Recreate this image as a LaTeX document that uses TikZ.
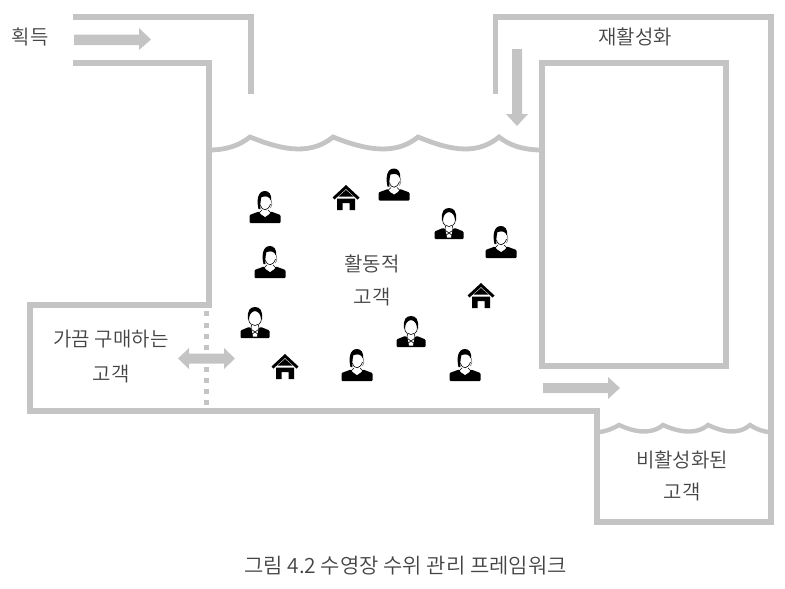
\documentclass[tikz,border=0pt]{standalone}
\usepackage{fontspec}
\setmainfont{Noto Sans CJK KR DemiLight}
\definecolor{wallgray}{HTML}{C4C4C4}
\definecolor{ink}{HTML}{444444}
\tikzset{
  wallline/.style={draw=wallgray,line width=5.2pt,line join=miter,line cap=butt},
  block/.style={fill=wallgray,draw=none},
  lab/.style={text=ink,font=\fontsize{20}{24}\selectfont,align=center,inner sep=0pt},
  womanicon/.pic={
    \fill[black,rounded corners=1pt] (-15.5,16) -- (-15.5,8) -- (-6,4.5) -- (0,10.5) -- (6,4.5) -- (15.5,8) -- (15.5,16) -- cycle;
    \fill[white] (-6,4) .. controls (-3,11) and (3,11) .. (6,4) -- (3.5,0) -- (-3.5,0) -- cycle;
    \fill[black] (-6.5,2) .. controls (-8.5,-6) and (-7.5,-16) .. (0,-16) .. controls (4.5,-16) and (6.5,-12) .. (6.2,-7) -- (5.4,-7) .. controls (4.5,-10) and (2,-11.5) .. (-3.5,-10) .. controls (-4.8,-5) and (-4.8,-1) .. (-4.5,2) -- cycle;
    \draw[black!50,line width=.7pt] (6.2,-7) .. controls (7,-3) and (7,-1) .. (5.5,1);
    \draw[black,line width=.6pt] (-4.5,-2) .. controls (-3,4.5) and (3,4.5) .. (5.5,-3);
    \draw[black,line width=.6pt] (-3,3) -- (-6,6) (3,3) -- (6,6);
  },
  manicon/.pic={
    \fill[black,rounded corners=1pt] (-14.5,15.5) -- (-14.5,8) -- (-6,4.5) -- (-3,6) -- (0,14) -- (3,6) -- (6,4.5) -- (14.5,8) -- (14.5,15.5) -- cycle;
    \fill[white] (-3.5,6) -- (0,8) -- (3.5,6) -- (2,14) -- (-2,14) -- cycle;
    \draw[black,line width=.6pt] (-3.5,7) -- (3.5,12) (3.5,7) -- (-3.5,12);
    \fill[black] (-7,-3) .. controls (-8,-12) and (-5,-15.5) .. (0,-15.5) .. controls (5,-15.5) and (8,-12) .. (7,-3) -- (6,-3) .. controls (6,-7) and (4,-11) .. (0,-11.5) .. controls (-4,-11) and (-6,-7) .. (-6,-3) -- cycle;
    \draw[black,line width=.6pt] (-6.4,-3) .. controls (-5.5,5) and (5.5,5) .. (6.4,-3);
    \draw[black,line width=.6pt] (-3.5,2.5) -- (-4,6) (3.5,2.5) -- (4,6);
  },
  houseicon/.pic={
    \fill[black] (-9,12.5) -- (-9,1) -- (9,1) -- (9,12.5) -- (3.5,12.5) -- (3.5,5.5) -- (-3.5,5.5) -- (-3.5,12.5) -- cycle;
    \fill[black] (-13.5,0) -- (0,-12.5) -- (13.5,0) -- (11.5,2) -- (0,-8.5) -- (-11.5,2) -- cycle;
    \fill[black] (-7.5,-1) -- (0,-7.5) -- (7.5,-1) -- cycle;
  }
}
\begin{document}
\begin{tikzpicture}[x=1pt,y=-1pt]
\useasboundingbox (0,0) rectangle (785,589);
% walls
\draw[wallline] (73,17) -- (251,17) -- (251,94);
\draw[wallline] (73,63) -- (209,63) -- (209,305) -- (30,305) -- (30,411) -- (597,411) -- (597,522) -- (771,522) -- (771,17) -- (495.5,17) -- (495.5,94);
\draw[wallline] (542,63) rectangle (726,366);
% water surfaces
\draw[wallline,line width=4.8pt] (209,150) .. controls (227,150) and (240,145) .. (250,137)
  .. controls (275,147) and (308,158) .. (333,137)
  .. controls (358,147) and (393,158) .. (418,137)
  .. controls (443,147) and (474,158) .. (499,137)
  .. controls (510,146) and (525,150) .. (541,150);
\draw[wallline,line width=4.4pt] (597,432) .. controls (605,432) and (612,429) .. (619,425)
  .. controls (632,431) and (650,436) .. (663,425)
  .. controls (676,431) and (695,436) .. (708,425)
  .. controls (721,431) and (737,436) .. (750,425)
  .. controls (756,429) and (763,432) .. (771,432);
% block arrows
\fill[block] (74,34.5) -- (139,34.5) -- (139,28) -- (151,39.5) -- (139,50) -- (139,45) -- (74,45) -- cycle;
\fill[block] (512,49) -- (512,114) -- (506,114) -- (517,126) -- (528,114) -- (522,114) -- (522,49) -- cycle;
\fill[block] (543,383) -- (608,383) -- (608,377) -- (620,388) -- (608,399) -- (608,393) -- (543,393) -- cycle;
% dotted boundary
\foreach \yy in {313,325,336,347,369,380,391,402}
  \fill[block] (204,\yy-2.5) rectangle (209,\yy+2.5);
\fill[block] (178,358.5) -- (189,348) -- (189,353.5) -- (224,353.5) -- (224,348) -- (235,358.5) -- (224,369) -- (224,363.5) -- (189,363.5) -- (189,369) -- cycle;
% icons
\path (265,207) pic {womanicon};
\path (394,184.5) pic {womanicon};
\path (449,223.5) pic {manicon};
\path (501,242) pic {womanicon};
\path (270,262) pic {womanicon};
\path (255,322.5) pic {manicon};
\path (411,331.5) pic {manicon};
\path (357,365) pic {womanicon};
\path (465,365) pic {womanicon};
\path (346,197.5) pic {houseicon};
\path (481,295.5) pic {houseicon};
\path (285,366.5) pic {houseicon};
% labels
\node[lab] (acq) at (30,37) {획득};
\node[lab] (react) at (635,37) {재활성화};
\node[lab] (act1) at (372,264) {활동적};
\node[lab] (act2) at (372,297) {고객};
\node[lab] (occ1) at (111,339) {가끔 구매하는};
\node[lab] (occ2) at (111,374) {고객};
\node[lab] (ina1) at (682,460) {비활성화된};
\node[lab] (ina2) at (682,492) {고객};
\node[lab,font=\fontsize{21}{24}\selectfont] (cap) at (405.5,566) {그림 4.2 수영장 수위 관리 프레임워크};
\end{tikzpicture}
\end{document}
